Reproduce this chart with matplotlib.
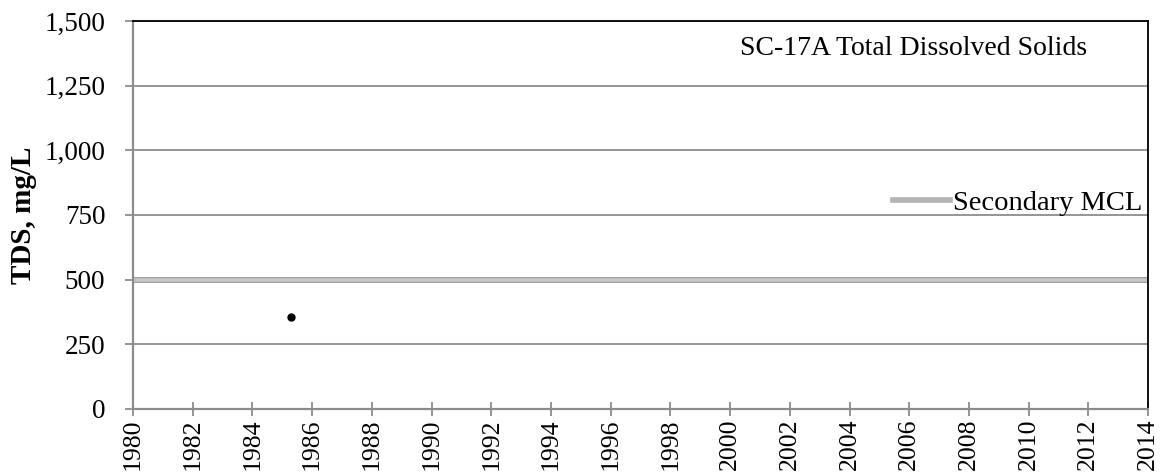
import numpy as np
import matplotlib
matplotlib.use('Agg')
from matplotlib import pyplot as plt
from matplotlib.ticker import FuncFormatter

# TDS samples (decimal year, mg/L)
sample_years = [1985.3]
tds_values = [355]

# Secondary MCL for TDS
mcl_value = 500
year_ticks = list(range(1980, 2015, 2))
tds_ticks = [0, 250, 500, 750, 1000, 1250, 1500]

plt.rcParams['font.family'] = ['Liberation Serif', 'DejaVu Serif']

fig = plt.figure(figsize=(11.64, 4.76), dpi=100)
ax = fig.add_axes([0.1143, 0.1408, 0.872, 0.8151])

grid_c = '#8c8c8c'
for y in tds_ticks[1:]:
    ax.axhline(y, color=grid_c, lw=1.3, zorder=1)

# MCL line
ax.axhline(mcl_value, color='#9a9a9a', lw=4.2, zorder=2)
mcl_line = ax.axhline(mcl_value, color='#c8c8c8', lw=2.6, zorder=2,
                      label='Secondary MCL')

ax.scatter(sample_years, tds_values, s=25, color='black', zorder=4)

ax.set_xlim(1980, 2014)
ax.set_ylim(0, 1500)
ax.set_xticks(year_ticks)
ax.set_yticks(tds_ticks)
ax.yaxis.set_major_formatter(FuncFormatter(lambda v, p: f'{int(v):,}'))
ax.tick_params(axis='x', direction='inout', length=10, width=1.3,
               color=grid_c, labelsize=18.5, labelrotation=90, pad=2)
ax.tick_params(axis='y', direction='out', length=6, width=1.3,
               color=grid_c, labelsize=19.5, pad=14)

for side in ('left', 'bottom'):
    ax.spines[side].set_color(grid_c)
    ax.spines[side].set_linewidth(1.6)
for side in ('top', 'right'):
    ax.spines[side].set_color('black')
    ax.spines[side].set_linewidth(1.3)

ax.set_ylabel('TDS, mg/L', fontsize=21, fontweight='bold')
ax.yaxis.set_label_coords(-0.095, 0.5)

ax.text(0.94, 0.93, 'SC-17A Total Dissolved Solids', transform=ax.transAxes,
        ha='right', va='center', fontsize=20)

leg = ax.legend(handles=[mcl_line], loc='center right',
                bbox_to_anchor=(0.994, 0.531), frameon=False,
                fontsize=20.5, handlelength=2.0, handletextpad=0.1,
                borderpad=0, borderaxespad=0)
leg.get_lines()[0].set_linewidth(4)
leg.get_lines()[0].set_color('#b4b4b4')

fig.savefig('out.png', dpi=100)
